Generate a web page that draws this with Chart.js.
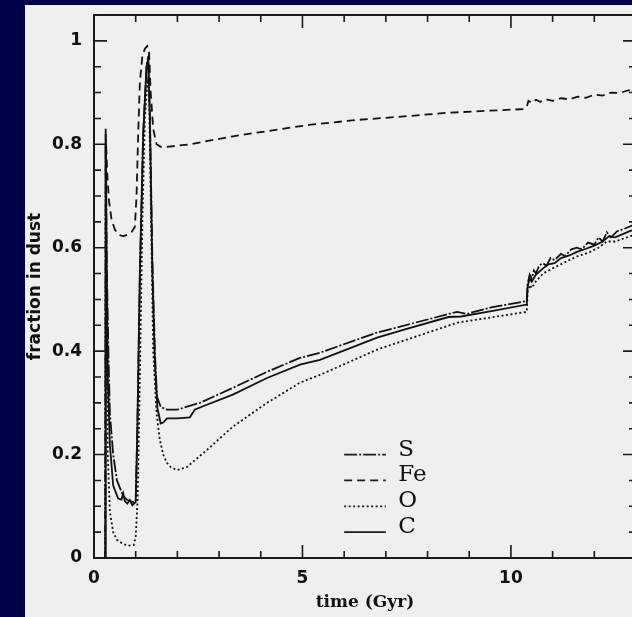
<!DOCTYPE html>
<html>
<head>
<meta charset="utf-8">
<script src="https://cdn.jsdelivr.net/npm/chart.js@4/dist/chart.umd.min.js"></script>
<style>
  html, body { margin: 0; padding: 0; background: #020249; overflow: hidden; }
  #panel { position: absolute; left: 25px; top: 5px; width: 620px; height: 620px; background: #efefef; }
  canvas { position: absolute; left: 0; top: 0; }
</style>
</head>
<body>
<div id="panel"><canvas id="dust" width="615" height="612"></canvas></div>
<script>
// time (Gyr) and fraction in dust
var tS = [0.27, 0.28, 0.31, 0.35, 0.38, 0.46, 0.55, 0.70, 0.80, 0.94, 1.00, 1.04, 1.10, 1.18, 1.26, 1.30, 1.34, 1.40, 1.46, 1.51, 1.60, 1.75, 2.00, 2.54, 3.33, 4.15, 4.94, 5.42, 6.79, 8.71, 8.94, 9.50, 10.38,
  10.40, 10.45, 10.50, 10.55, 10.60, 10.68, 10.77, 10.85, 10.95, 11.05, 11.20, 11.30, 11.45, 11.58, 11.70, 11.85, 12.00, 12.10, 12.20, 12.30, 12.40, 12.55, 12.70, 12.85, 13.0];
var S = [0, 0.83, 0.55, 0.38, 0.28, 0.20, 0.15, 0.12, 0.112, 0.108, 0.11, 0.25, 0.55, 0.82, 0.95, 0.97, 0.86, 0.58, 0.40, 0.312, 0.292, 0.287, 0.287, 0.30, 0.329, 0.36, 0.387, 0.397, 0.436, 0.476, 0.472, 0.484, 0.497,
  0.530, 0.548, 0.540, 0.556, 0.550, 0.566, 0.570, 0.565, 0.580, 0.576, 0.588, 0.584, 0.597, 0.600, 0.597, 0.610, 0.606, 0.620, 0.612, 0.630, 0.620, 0.632, 0.636, 0.641, 0.646];

var tFe = [0.27, 0.29, 0.32, 0.36, 0.42, 0.50, 0.60, 0.70, 0.80, 0.90, 0.98, 1.02, 1.06, 1.10, 1.16, 1.22, 1.28, 1.32, 1.36, 1.42, 1.50, 1.60, 1.75, 2.30, 3.30, 4.20, 5.20, 6.30, 7.30, 8.50, 9.50, 10.30,
  10.38, 10.42, 10.50, 10.60, 10.70, 10.85, 11.00, 11.20, 11.40, 11.60, 11.80, 12.00, 12.20, 12.40, 12.60, 12.80, 13.0];
var Fe = [0, 0.80, 0.74, 0.69, 0.655, 0.635, 0.625, 0.622, 0.625, 0.63, 0.64, 0.70, 0.82, 0.92, 0.97, 0.985, 0.99, 0.98, 0.90, 0.83, 0.80, 0.795, 0.795, 0.80, 0.815, 0.826, 0.838, 0.847, 0.853, 0.861, 0.865, 0.868,
  0.872, 0.884, 0.880, 0.886, 0.882, 0.887, 0.884, 0.889, 0.887, 0.892, 0.890, 0.896, 0.894, 0.900, 0.899, 0.904, 0.907];

var tO = [0.27, 0.28, 0.30, 0.33, 0.38, 0.46, 0.55, 0.70, 0.85, 0.95, 1.00, 1.05, 1.10, 1.16, 1.22, 1.28, 1.32, 1.38, 1.42, 1.50, 1.58, 1.66, 1.75, 1.85, 2.00, 2.23, 2.71, 3.33, 4.15, 4.94, 5.42, 6.79, 8.71, 10.38,
  10.40, 10.45, 10.50, 10.60, 10.77, 10.95, 11.20, 11.45, 11.58, 11.85, 12.10, 12.30, 12.50, 12.85, 13.0];
var O = [0, 0.80, 0.45, 0.20, 0.09, 0.05, 0.035, 0.027, 0.024, 0.025, 0.04, 0.12, 0.35, 0.65, 0.85, 0.92, 0.90, 0.60, 0.40, 0.28, 0.228, 0.20, 0.184, 0.175, 0.17, 0.176, 0.209, 0.254, 0.30, 0.339, 0.354, 0.403, 0.455, 0.476,
  0.515, 0.528, 0.522, 0.535, 0.550, 0.558, 0.568, 0.578, 0.583, 0.590, 0.600, 0.612, 0.612, 0.622, 0.626];

var tC = [0.27, 0.28, 0.30, 0.33, 0.38, 0.46, 0.58, 0.66, 0.70, 0.74, 0.80, 0.86, 0.92, 1.00, 1.04, 1.10, 1.18, 1.26, 1.30, 1.34, 1.40, 1.46, 1.52, 1.60, 1.66, 1.75, 2.00, 2.30, 2.42, 2.60, 3.33, 4.15, 4.94, 5.42, 6.79, 7.50, 8.50, 8.80, 9.50, 10.38,
  10.40, 10.45, 10.50, 10.60, 10.77, 10.90, 11.05, 11.20, 11.40, 11.58, 11.80, 12.00, 12.20, 12.35, 12.50, 12.85, 13.0];
var C = [0, 0.82, 0.60, 0.35, 0.22, 0.14, 0.115, 0.113, 0.125, 0.11, 0.105, 0.112, 0.102, 0.108, 0.25, 0.55, 0.82, 0.95, 0.965, 0.85, 0.55, 0.38, 0.29, 0.26, 0.262, 0.27, 0.27, 0.272, 0.287, 0.293, 0.316, 0.348, 0.374, 0.383, 0.426, 0.443, 0.466, 0.467, 0.477, 0.49,
  0.525, 0.540, 0.534, 0.548, 0.560, 0.568, 0.570, 0.580, 0.585, 0.592, 0.598, 0.604, 0.612, 0.622, 0.620, 0.632, 0.636];

var xTickLabels = [0, 5, 10];
var yTickLabels = [0, 0.2, 0.4, 0.6, 0.8, 1];

function pts(t, v) {
  return t.map(function(x, i) { return {x: x, y: v[i]}; });
}

const framePlugin = {
  id: 'frameTicks',
  afterDatasetsDraw: (chart) => {
    const {ctx, chartArea: a, scales: {x, y}} = chart;
    ctx.save();
    ctx.strokeStyle = '#1a1a1a';
    ctx.lineWidth = 2;
    ctx.strokeRect(a.left, a.top, a.right - a.left, a.bottom - a.top);
    ctx.lineWidth = 1.6;
    ctx.beginPath();
    for (let t = 0; t <= 13; t++) {
      const px = x.getPixelForValue(t);
      const len = xTickLabels.indexOf(t) >= 0 ? 13 : 7;
      ctx.moveTo(px, a.bottom); ctx.lineTo(px, a.bottom - len);
      ctx.moveTo(px, a.top); ctx.lineTo(px, a.top + len);
    }
    for (let k = 0; k <= 21; k++) {
      const v = k * 0.05;
      const py = y.getPixelForValue(v);
      const len = k % 4 === 0 ? 13 : 7;
      ctx.moveTo(a.left, py); ctx.lineTo(a.left + len, py);
      ctx.moveTo(a.right, py); ctx.lineTo(a.right - len, py);
    }
    ctx.stroke();

    // key
    const x0 = x.getPixelForValue(6.0), x1 = x.getPixelForValue(7.0), xt = x.getPixelForValue(7.3);
    ctx.font = '23px "DejaVu Serif"';
    ctx.fillStyle = '#111';
    chart.data.datasets.forEach((ds, i) => {
      const py = y.getPixelForValue(0.2 - i * 0.05);
      ctx.beginPath();
      ctx.setLineDash(ds.borderDash || []);
      ctx.lineWidth = 1.8;
      ctx.moveTo(x0, py); ctx.lineTo(x1, py);
      ctx.stroke();
      ctx.setLineDash([]);
      ctx.fillText(ds.label, xt, py + 1);
    });
    ctx.restore();
  }
};

var config = {
  type: 'line',
  data: {
    datasets: [{
      label: 'S', data: pts(tS, S), borderColor: '#111', borderDash: [13, 2, 2, 2]
    }, {
      label: 'Fe', data: pts(tFe, Fe), borderColor: '#111', borderDash: [8, 5]
    }, {
      label: 'O', data: pts(tO, O), borderColor: '#111', borderDash: [2, 2.5]
    }, {
      label: 'C', data: pts(tC, C), borderColor: '#111'
    }]
  },
  options: {
    responsive: false,
    animation: false,
    layout: { padding: { top: 10, right: 4, left: 0, bottom: 0 } },
    elements: {
      point: { radius: 0 },
      line: { borderWidth: 1.8, tension: 0 }
    },
    plugins: { legend: { display: false }, tooltip: { enabled: false } },
    scales: {
      x: {
        type: 'linear', min: 0, max: 13,
        afterBuildTicks: (s) => { s.ticks = xTickLabels.map(v => ({value: v})); },
        afterFit: (s) => { s.height = 59; s.paddingLeft = 0; s.paddingRight = 0; },
        grid: { display: false, drawTicks: false },
        border: { display: false },
        ticks: { padding: 10, color: '#111', font: { family: 'DejaVu Sans', size: 17, weight: 'bold' }, maxRotation: 0 },
        title: { display: true, text: 'time (Gyr)', color: '#111', padding: { top: 0, bottom: 4 },
                 font: { family: 'DejaVu Serif', size: 17, weight: 'bold' } }
      },
      y: {
        min: 0, max: 1.05,
        afterBuildTicks: (s) => { s.ticks = yTickLabels.map(v => ({value: v})); },
        afterFit: (s) => { s.width = 69; s.paddingTop = 0; s.paddingBottom = 0; },
        grid: { display: false, drawTicks: false },
        border: { display: false },
        ticks: { padding: 12, color: '#111', font: { family: 'DejaVu Sans', size: 17, weight: 'bold' },
                 callback: (v) => String(v) },
        title: { display: true, text: 'fraction in dust', color: '#111', padding: { top: 0, bottom: 0 },
                 font: { family: 'DejaVu Sans', size: 17, weight: 'bold' } }
      }
    }
  },
  plugins: [framePlugin]
};

window.onload = function() {
  var ctx = document.getElementById('dust').getContext('2d');
  window.dustChart = new Chart(ctx, config);
};
</script>
</body>
</html>
